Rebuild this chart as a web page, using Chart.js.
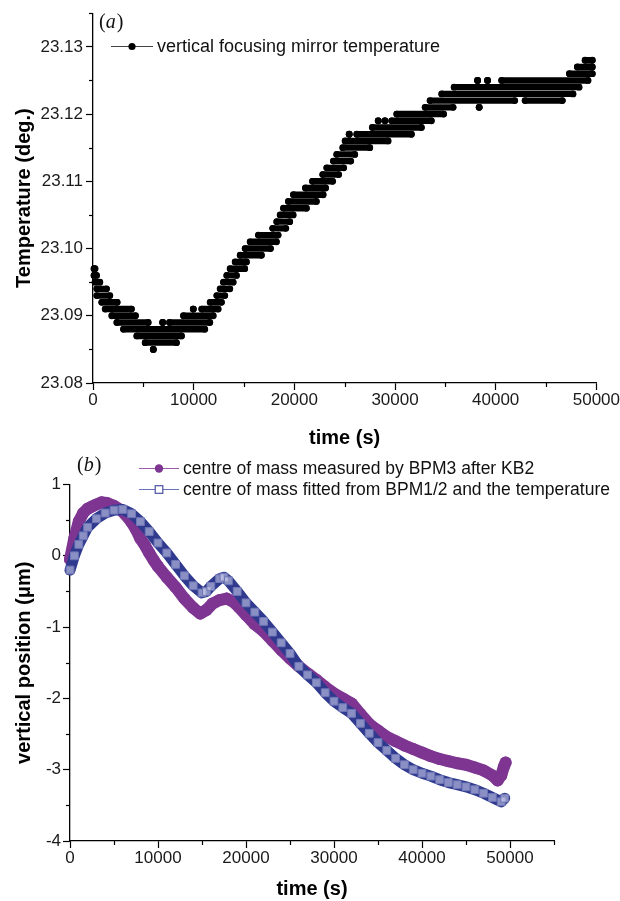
<!DOCTYPE html>
<html><head><meta charset="utf-8">
<script src="https://cdn.jsdelivr.net/npm/chart.js@4/dist/chart.umd.min.js"></script>
<style>
html,body{margin:0;padding:0;background:#fff;}
#wrap{position:relative;width:620px;height:901px;overflow:hidden;background:#fff;}
canvas{position:absolute;left:0;}
</style></head><body>
<div id="wrap">
<canvas id="ca" width="620" height="450" style="top:0;width:620px;height:450px"></canvas>
<canvas id="cb" width="620" height="451" style="top:450px;width:620px;height:451px"></canvas>
</div>
<script>
// ---------- Panel (a): temperature, runs of equal readings (level, start time, end time) ----------
const tempLevels = [23.085,23.086,23.087,23.088,23.089,23.089,23.089,23.090,23.090,23.091,23.091,23.091,
  23.092,23.092,23.093,23.093,23.094,23.094,23.095,23.095,23.096,23.096,23.097,23.097,
  23.098,23.099,23.100,23.101,23.102,23.103,23.104,23.105,23.106,23.107,23.108,23.109,
  23.110,23.111,23.112,23.113,23.114,23.115,23.116,23.117,23.117,23.118,23.119,23.119,23.119,
  23.120,23.121,23.121,23.122,23.122,23.123,23.124,23.125,23.125,23.125,23.126,23.127,23.128];
const runStart = [5990,5180,4350,3030,2370,6920,7600,1870,8990,1210,9960,10800,
  870,11640,380,12300,380,12630,200,12960,100,13290,100,13620,
  14120,14620,15110,15610,16430,17850,18250,18590,18920,19410,19910,21100,
  21800,22820,23220,23880,24210,24810,25040,25450,26200,27750,28330,29000,29670,
  30170,32990,38360,33480,42920,34640,35870,38200,39190,40590,47320,48110,48880];
const runEnd = [5990,8290,8790,11100,5480,6920,11600,4220,11940,3820,9960,12430,
  2400,12760,1670,13090,1340,13590,680,13920,350,14250,200,15070,
  15240,16730,17630,18220,18390,19150,19540,19880,21200,22190,22860,23100,
  23800,24400,24900,25600,26000,27490,29310,25450,31630,32620,28330,29000,33610,
  34830,35770,38360,41890,46620,47680,48280,38200,39190,49170,49600,49600,49600];
const xTicksA = [0,10000,20000,30000,40000,50000];
const xTickLabelsA = ['0','10000','20000','30000','40000','50000'];
const xMinorA = [5000,15000,25000,35000,45000];
const yTicksA = [23.08,23.09,23.10,23.11,23.12,23.13];
const yTickLabelsA = ['23.08','23.09','23.10','23.11','23.12','23.13'];
const yMinorA = [23.085,23.095,23.105,23.115,23.125,23.135];
const seriesNameA = 'vertical focusing mirror temperature';

// ---------- Panel (b): vertical position ----------
const measT = [0,500,1000,1500,2000,2500,3000,3600,4200,5000,5800,6500,7000,7500,8000,8500,9000,9500,10000,
  11000,12000,13000,14000,14800,15500,16200,17000,17800,18500,19200,20000,21000,22000,23000,24000,25000,
  26000,27000,28000,29000,30000,31000,32000,33000,34000,35000,36000,37000,38000,39000,40000,41000,42000,
  43000,44000,45000,46000,47000,48000,48600,49000,49300,49500];
const measV = [-0.05,0.25,0.48,0.60,0.66,0.69,0.72,0.75,0.74,0.70,0.64,0.55,0.47,0.37,0.24,0.15,0.04,-0.06,-0.15,
  -0.30,-0.44,-0.60,-0.73,-0.81,-0.76,-0.67,-0.62,-0.60,-0.64,-0.72,-0.83,-0.96,-1.06,-1.19,-1.32,-1.44,
  -1.55,-1.65,-1.74,-1.84,-1.93,-2.00,-2.07,-2.22,-2.36,-2.45,-2.54,-2.60,-2.66,-2.71,-2.76,-2.81,-2.85,
  -2.88,-2.91,-2.93,-2.97,-3.01,-3.08,-3.15,-3.08,-2.96,-2.90];
const fitT = [0,500,1000,1500,2000,3000,4000,5000,6000,7000,8000,9000,10000,11000,12000,13000,14000,15000,15500,
  16000,17000,17500,18000,19000,20000,21000,22000,23000,24000,25000,26000,27000,28000,29000,30000,31000,
  32000,33000,34000,35000,36000,37000,38000,39000,40000,41000,42000,43000,44000,45000,46000,47000,48000,49000,49400];
const fitV = [-0.20,0.00,0.16,0.28,0.40,0.52,0.60,0.64,0.65,0.59,0.48,0.34,0.18,0.04,-0.12,-0.28,-0.42,-0.52,-0.50,
  -0.43,-0.32,-0.30,-0.35,-0.50,-0.66,-0.79,-0.92,-1.07,-1.22,-1.37,-1.55,-1.67,-1.78,-1.92,-2.04,-2.13,
  -2.21,-2.35,-2.49,-2.62,-2.73,-2.84,-2.93,-3.00,-3.05,-3.09,-3.14,-3.18,-3.21,-3.24,-3.28,-3.33,-3.39,-3.45,-3.40];
const xTicksB = [0,10000,20000,30000,40000,50000];
const xTickLabelsB = ['0','10000','20000','30000','40000','50000'];
const xMinorB = [5000,15000,25000,35000,45000,55000];
const yTicksB = [-4,-3,-2,-1,0,1];
const yTickLabelsB = ['-4','-3','-2','-1','0','1'];
const yMinorB = [-3.5,-2.5,-1.5,-0.5,0.5];
const seriesNamesB = ['centre of mass measured by BPM3 after KB2','centre of mass fitted from BPM1/2 and the temperature'];

// ---------- helpers ----------
const SANS = '"Liberation Sans", Arial, Helvetica, sans-serif';
const SERIF = '"Liberation Serif", "Times New Roman", serif';

const minorTickPlugin = {
  id: 'minorTicks',
  afterDraw(chart, args, o) {
    const ctx = chart.ctx, ca = chart.chartArea;
    const xs = chart.scales.x, ys = chart.scales.y;
    ctx.save(); ctx.strokeStyle = '#000'; ctx.lineWidth = 1.2;
    (o.x || []).forEach(v => { const p = Math.round(xs.getPixelForValue(v)) + 0.5;
      ctx.beginPath(); ctx.moveTo(p, ca.bottom); ctx.lineTo(p, ca.bottom + 4); ctx.stroke(); });
    (o.y || []).forEach(v => { const p = Math.round(ys.getPixelForValue(v)) + 0.5;
      ctx.beginPath(); ctx.moveTo(ca.left, p); ctx.lineTo(ca.left - 4, p); ctx.stroke(); });
    ctx.restore();
  }
};

const overlayPlugin = {
  id: 'overlay',
  afterDraw(chart, args, o) {
    const ctx = chart.ctx;
    ctx.save();
    ctx.textBaseline = 'middle';
    (o.items || []).forEach(it => {
      ctx.strokeStyle = it.lineColor; ctx.lineWidth = 1;
      ctx.beginPath(); ctx.moveTo(it.x, it.y + 0.5); ctx.lineTo(it.x + it.w, it.y + 0.5); ctx.stroke();
      const cx = it.x + it.w / 2;
      if (it.marker === 'circle') {
        ctx.fillStyle = it.color; ctx.beginPath(); ctx.arc(cx, it.y + 0.5, it.r, 0, Math.PI * 2); ctx.fill();
      } else {
        ctx.fillStyle = '#fff'; ctx.strokeStyle = it.color; ctx.lineWidth = 1.2;
        ctx.fillRect(cx - it.r, it.y - it.r + 0.5, 2 * it.r, 2 * it.r);
        ctx.strokeRect(cx - it.r, it.y - it.r + 0.5, 2 * it.r, 2 * it.r);
      }
      ctx.fillStyle = '#111'; ctx.font = (it.size || 18) + 'px ' + SANS; ctx.textAlign = 'left';
      ctx.fillText(it.text, it.x + it.w + 4, it.y + 1);
    });
    if (o.panel) {
      const p = o.panel; let x = p.x;
      ctx.fillStyle = '#111'; ctx.textAlign = 'left';
      ctx.font = '20px ' + SERIF; ctx.fillText('(', x, p.y); x += ctx.measureText('(').width;
      ctx.font = 'italic 20px ' + SERIF; ctx.fillText(p.letter, x, p.y); x += ctx.measureText(p.letter).width + 1;
      ctx.font = '20px ' + SERIF; ctx.fillText(')', x, p.y);
    }
    ctx.restore();
  }
};

function axisCommon(ticksArr, labelsArr, fitFn, titleText, titlePad, tickPad) {
  return {
    type: 'linear',
    afterBuildTicks: s => { s.ticks = ticksArr.map(v => ({ value: v })); },
    afterFit: fitFn,
    grid: { drawOnChartArea: false, drawTicks: true, tickLength: 7, tickColor: '#000', tickWidth: 1.2, color: '#000' },
    border: { display: true, color: '#000', width: 1.3 },
    ticks: { color: '#1a1a1a', font: { family: SANS, size: 17 }, padding: tickPad, maxRotation: 0, autoSkip: false,
      callback: (v, i) => labelsArr[i] },
    title: { display: true, text: titleText, color: '#000', font: { family: SANS, size: 20, weight: 'bold' }, padding: titlePad }
  };
}

// ---------- Chart (a) ----------
const bandData = [];
tempLevels.forEach((lv, i) => {
  bandData.push({ x: runStart[i], y: lv }, { x: runEnd[i], y: lv }, { x: runEnd[i], y: null });
});

new Chart(document.getElementById('ca'), {
  type: 'scatter',
  data: { datasets: [{
    label: seriesNameA, data: bandData, showLine: true, spanGaps: false,
    borderColor: '#000', backgroundColor: '#000', borderWidth: 6.4, borderCapStyle: 'round',
    pointRadius: 3.4, pointBorderWidth: 0, pointHoverRadius: 0, clip: false
  }]},
  options: {
    responsive: false, animation: false, devicePixelRatio: 1,
    layout: { padding: { left: 0, right: 23.5, top: 13, bottom: 0 } },
    events: [],
    plugins: {
      legend: { display: false }, tooltip: { enabled: false },
      minorTicks: { x: xMinorA, y: yMinorA },
      overlay: {
        items: [{ text: seriesNameA, x: 111, y: 46, w: 42, r: 3.6, marker: 'circle', color: '#000', lineColor: '#444', size: 18 }],
        panel: { letter: 'a', x: 99, y: 23 }
      }
    },
    scales: {
      x: Object.assign(axisCommon(xTicksA, xTickLabelsA, s => { s.height = 67; }, 'time (s)', { top: 0, bottom: 0 }, 0),
        { min: 0, max: 50000, position: 'bottom' }),
      y: Object.assign(axisCommon(yTicksA, yTickLabelsA, s => { s.width = 93; }, 'Temperature (deg.)', { top: 12, bottom: 0 }, 3),
        { min: 23.08, max: 23.135, position: 'left' })
    }
  },
  plugins: [minorTickPlugin, overlayPlugin]
});

// ---------- Chart (b) ----------
const measData = measT.map((t, i) => ({ x: t, y: measV[i] }));
const fitData = fitT.map((t, i) => ({ x: t, y: fitV[i] }));
const PURPLE = '#7e3592', NAVY = '#2f3a8f';

new Chart(document.getElementById('cb'), {
  type: 'scatter',
  data: { datasets: [
    { label: seriesNamesB[0], data: measData, showLine: true, order: 2,
      borderColor: PURPLE, backgroundColor: PURPLE, borderWidth: 12, borderJoinStyle: 'round', borderCapStyle: 'round',
      pointRadius: 6, pointBorderWidth: 0, pointHoverRadius: 0, clip: false },
    { label: seriesNamesB[1], data: fitData, showLine: true, order: 1,
      borderColor: NAVY, backgroundColor: 'rgba(230,230,248,0.5)', borderWidth: 11, borderJoinStyle: 'round', borderCapStyle: 'round',
      pointStyle: 'rect', pointRadius: 5.5, pointBorderWidth: 1, pointBorderColor: '#7077b8', pointHoverRadius: 0, clip: false }
  ]},
  options: {
    responsive: false, animation: false, devicePixelRatio: 1,
    layout: { padding: { left: 0, right: 66, top: 34.5, bottom: 0 } },
    events: [],
    plugins: {
      legend: { display: false }, tooltip: { enabled: false },
      minorTicks: { x: xMinorB, y: yMinorB },
      overlay: {
        items: [
          { text: seriesNamesB[0], x: 139, y: 18, w: 40, r: 4.2, marker: 'circle', color: PURPLE, lineColor: '#9a5aaa', size: 17.5 },
          { text: seriesNamesB[1], x: 139, y: 39, w: 40, r: 3.8, marker: 'rect', color: '#4a52a0', lineColor: '#6a70b5', size: 17.5 }
        ],
        panel: { letter: 'b', x: 77, y: 16 }
      }
    },
    scales: {
      x: Object.assign(axisCommon(xTicksB, xTickLabelsB, s => { s.height = 60; }, 'time (s)', { top: 0, bottom: 0 }, 0),
        { min: 0, max: 55000, position: 'bottom' }),
      y: Object.assign(axisCommon(yTicksB, yTickLabelsB, s => { s.width = 70; }, 'vertical position (\u03bcm)', { top: 12, bottom: 0 }, 2),
        { min: -4, max: 1, position: 'left' })
    }
  },
  plugins: [minorTickPlugin, overlayPlugin]
});
</script>
</body></html>
